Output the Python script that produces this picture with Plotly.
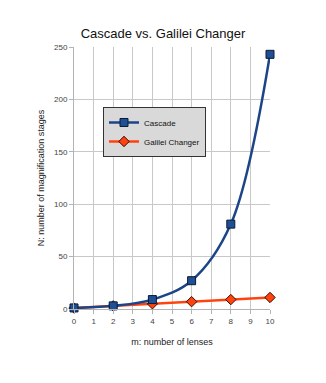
import plotly.graph_objects as go

# Number of lenses m
lenses = [0, 2, 4, 6, 8, 10]
# Magnification stages for each design
cascade = [1, 3, 9, 27, 81, 243]
galilei = [1, 3, 5, 7, 9, 11]

x_ticks = list(range(0, 11))
y_ticks = [0, 50, 100, 150, 200, 250]

fig = go.Figure()

fig.add_trace(go.Scatter(
    x=lenses, y=galilei, name="Galilei Changer",
    mode="lines+markers",
    line=dict(color="#ff420e", width=2.5),
    marker=dict(symbol="diamond", size=8, color="#ff420e",
                line=dict(color="#3a0d00", width=1)),
    cliponaxis=False,
))

fig.add_trace(go.Scatter(
    x=lenses, y=cascade, name="Cascade",
    mode="lines+markers",
    line=dict(color="#1c4587", width=2.5, shape="spline", smoothing=1.0),
    marker=dict(symbol="square", size=8, color="#1f5096",
                line=dict(color="#0a1a33", width=1)),
    cliponaxis=False,
))

fig.update_layout(
    width=326, height=383,
    margin=dict(l=74, r=56, t=47, b=74),
    paper_bgcolor="white", plot_bgcolor="white",
    font=dict(family="Liberation Sans, Arial, sans-serif", color="#222"),
    title=dict(text="Cascade vs. Galilei Changer", x=0.5, xanchor="center",
               y=1 - 33 / 383, yanchor="middle",
               font=dict(size=13, color="#111")),
    showlegend=True,
    legend=dict(x=0.148, y=0.771, xanchor="left", yanchor="top",
                bgcolor="#d9d9d9", bordercolor="#333", borderwidth=1,
                font=dict(size=8, color="#111"), traceorder="reversed",
                itemwidth=30, tracegroupgap=0),
    xaxis=dict(range=[0, 10], tickvals=x_ticks, ticktext=[str(v) for v in x_ticks],
               showgrid=True, gridcolor="#c8c8c8", gridwidth=1,
               showline=True, linecolor="#b3b3b3", linewidth=1,
               ticks="outside", ticklen=4, tickcolor="#b3b3b3",
               tickfont=dict(size=8, color="#444"), zeroline=False,
               title=dict(text="m: number of lenses", font=dict(size=9, color="#222"),
                          standoff=14)),
    yaxis=dict(range=[0, 250], tickvals=y_ticks,
               showgrid=True, gridcolor="#c8c8c8", gridwidth=1,
               showline=True, linecolor="#b3b3b3", linewidth=1,
               ticks="outside", ticklen=4, tickcolor="#b3b3b3",
               tickfont=dict(size=8, color="#444"), zeroline=False,
               title=dict(text="N: number of magnification stages",
                          font=dict(size=9, color="#222"), standoff=7)),
)

fig.write_html("out.html")
